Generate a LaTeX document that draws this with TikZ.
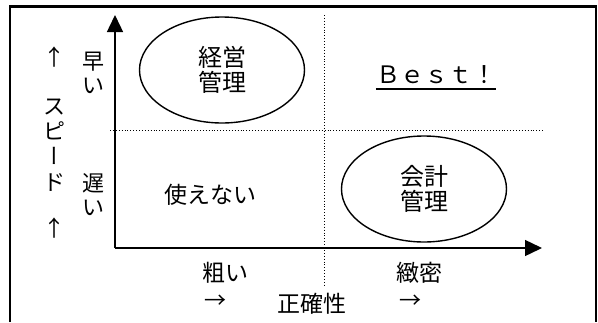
\documentclass[tikz,border=0pt]{standalone}
\usepackage{fontspec}
\newfontfamily\jp{Noto Sans CJK JP}
\newfontfamily\jpv[RawFeature=+vert]{Noto Sans CJK JP}
\usetikzlibrary{arrows.meta,shapes.geometric}
\begin{document}
\begin{tikzpicture}[x=1pt,y=-1pt,
  axis/.style={line width=1.4pt,-{Triangle[width=16pt,length=17pt]}},
  quad/.style={dotted,line width=0.9pt},
  area/.style={ellipse,draw,line width=1.4pt,minimum width=165pt,minimum height=106pt,
    inner sep=0pt,align=center,font=\jp\fontsize{24}{25}\selectfont},
  lbl/.style={inner sep=0pt,align=center,font=\jp\fontsize{22}{24}\selectfont}]
\useasboundingbox (0,0) rectangle (598,322);
% frame
\draw[line width=2.5pt] (10,322) -- (10,6.5) -- (596,6.5) -- (596,322);
% axes
\coordinate (origin) at (115,248);
\coordinate (ytop) at (115,15);
\coordinate (xend) at (542,248);
\draw[axis] (origin) -- (ytop);
\draw[axis] (origin) -- (xend);
% quadrants
\coordinate (hleft) at (110,130);
\coordinate (hright) at (543,130);
\coordinate (vtop) at (324,15);
\coordinate (vbot) at (324,285);
\draw[quad] (hleft) -- (hright);
\draw[quad] (vtop) -- (vbot);
% areas
\node[area] (keiei) at (222,70) {経営\\管理};
\node[area] (kaikei) at (424,189) {会計\\管理};
\node[lbl,font=\jp\fontsize{23}{24}\selectfont] (tsukaenai) at (210,195) {使えない};
\node[inner sep=0pt,font=\jp\fontsize{24}{28}\selectfont] (best) at (436,75) {Ｂｅｓｔ！};
\draw[line width=2pt] ([yshift=-5pt]best.base west) -- ([yshift=-5pt]best.base east);
% speed
\node[lbl] (hayai) at (93,73) {早\\い};
\node[lbl] (osoi) at (93,195) {遅\\い};
\node[lbl] (up1) at (54,57) {↑};
\node[lbl,font=\jp\fontsize{22}{25.3}\selectfont] (speed) at (54,145) {ス\\ピ\\{\jpv ー}\\ド};
\node[lbl] (up2) at (54,228) {↑};
% accuracy
\node[lbl,font=\jp\fontsize{23}{25}\selectfont] (arai) at (225,273) {粗い};
\node[lbl,font=\jp\fontsize{23}{25}\selectfont] (chimitsu) at (419,273) {緻密};
\node[lbl] (right1) at (215,302) {→};
\node[lbl,font=\jp\fontsize{23}{25}\selectfont] (seikaku) at (312,304) {正確性};
\node[lbl] (right2) at (410,302) {→};
\end{tikzpicture}
\end{document}
